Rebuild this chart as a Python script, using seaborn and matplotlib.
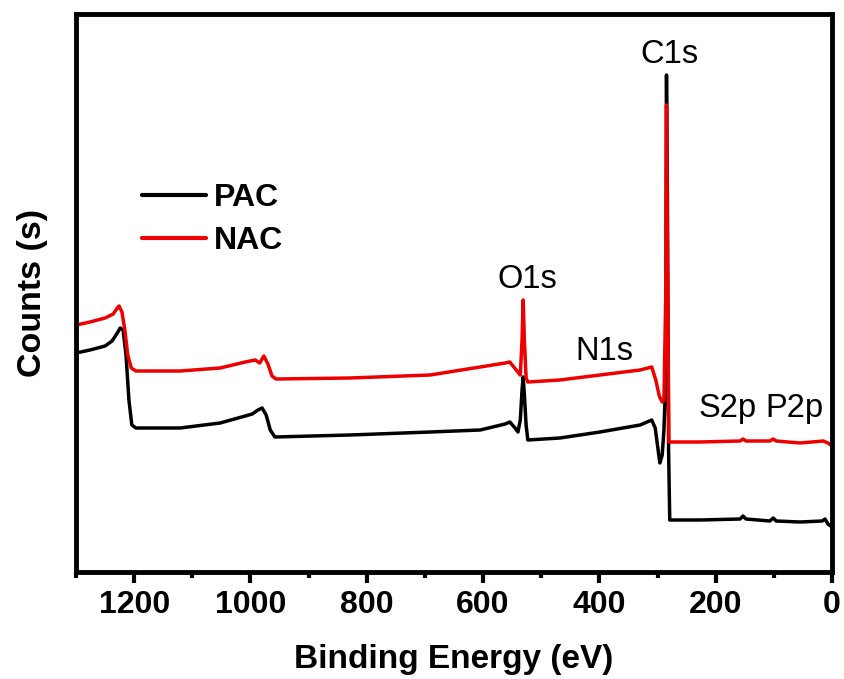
import pandas as pd
import matplotlib
matplotlib.use("Agg")
import matplotlib.pyplot as plt
from matplotlib.ticker import MultipleLocator, NullLocator
import seaborn as sns

# XPS survey values (counts in arbitrary units)
pac_energy = [1300, 1276, 1250, 1238, 1229, 1224, 1219, 1214, 1209, 1204, 1197, 1121,
              1052, 1009, 997, 987, 980, 973, 966, 958, 829, 691, 605, 562, 554, 545,
              540, 536, 533, 531, 529, 526, 523, 468, 399, 330, 310, 304, 299, 296,
              292, 289, 286, 284.6, 283, 281, 279, 227, 158, 153, 148, 107, 101, 96,
              55, 17, 12, 7, 0]
pac_counts = [219, 222, 226, 231, 239, 244, 242, 217, 172, 147, 144, 144,
              149, 156, 158, 162, 164, 157, 142, 135, 137, 140, 142, 148, 150, 144,
              140, 152, 182, 195, 177, 147, 132, 134, 140, 147, 152, 144, 122, 109,
              117, 142, 192, 497, 372, 122, 52, 52, 53, 56, 53, 51, 54, 51,
              50, 51, 53, 48, 45]

nac_energy = [1300, 1276, 1250, 1236, 1229, 1226, 1221, 1216, 1211, 1205, 1197, 1121,
              1052, 1009, 992, 984, 977, 970, 963, 956, 829, 691, 605, 562, 554, 543,
              536, 533, 531, 529, 526, 523, 468, 399, 330, 310, 303, 297, 292, 289,
              286, 284.6, 283, 280.5, 227, 158, 153, 148, 107, 101, 96, 55, 15, 7, 0]
nac_counts = [247, 250, 254, 258, 264, 266, 260, 242, 217, 204, 201, 201,
              204, 210, 212, 209, 216, 208, 196, 193, 194, 197, 205, 209, 210, 202,
              197, 232, 272, 232, 194, 190, 192, 197, 202, 205, 192, 176, 170, 172,
              272, 467, 322, 130, 130, 131, 133, 131, 131, 133, 131, 129, 131, 129, 126]

# peak labels: (text, energy, counts)
peak_labels = [("C1s", 279, 509), ("O1s", 523, 284), ("N1s", 392, 212),
               ("S2p", 179, 155), ("P2p", 64, 155)]

df = pd.concat([
    pd.DataFrame({"energy": pac_energy, "counts": pac_counts, "sample": "PAC"}),
    pd.DataFrame({"energy": nac_energy, "counts": nac_counts, "sample": "NAC"}),
])

sns.set_style("ticks")
plt.rcParams['font.family'] = ['Liberation Sans', 'DejaVu Sans']
plt.rcParams['text.color'] = 'black'
plt.rcParams['axes.labelcolor'] = 'black'
plt.rcParams['xtick.color'] = 'black'

fig = plt.figure(figsize=(8.45, 6.79), dpi=100)
ax = fig.add_axes([76 / 845, 1 - 572 / 679, 756 / 845, 558 / 679])

sns.lineplot(data=df, x="energy", y="counts", hue="sample",
             palette={"PAC": "black", "NAC": "#ee0000"}, linewidth=2.5,
             estimator=None, ax=ax)

ax.set_xlim(1300, 0)
ax.set_ylim(0, 558)
ax.xaxis.set_major_locator(MultipleLocator(200))
ax.xaxis.set_minor_locator(MultipleLocator(100))
ax.yaxis.set_major_locator(NullLocator())
ax.tick_params(axis='x', which='major', length=8, width=3, direction='out',
               labelsize=23, pad=5, colors='black')
ax.tick_params(axis='x', which='minor', length=4, width=3, direction='out',
               colors='black')
for lab in ax.get_xticklabels():
    lab.set_fontweight('bold')
for s in ax.spines.values():
    s.set_linewidth(3.5)
    s.set_color('black')

ax.set_xlabel("Binding Energy (eV)", fontsize=24, fontweight='bold', labelpad=17,
              color='black')
ax.set_ylabel("Counts (s)", fontsize=24.5, fontweight='bold', labelpad=20,
              color='black')

for txt, e, c in peak_labels:
    ax.text(e, c, txt, fontsize=23.5, ha='center', va='baseline', color='black')

leg = ax.legend(loc='upper left', bbox_to_anchor=(0.0873, 0.697), frameon=False,
                fontsize=23, handlelength=2.0, handletextpad=0.25,
                labelspacing=0.42, borderpad=0, borderaxespad=0)
for t in leg.get_texts():
    t.set_fontweight('bold')
    t.set_color('black')
for h in leg.get_lines():
    h.set_linewidth(3)

fig.savefig("out.png", dpi=100)
